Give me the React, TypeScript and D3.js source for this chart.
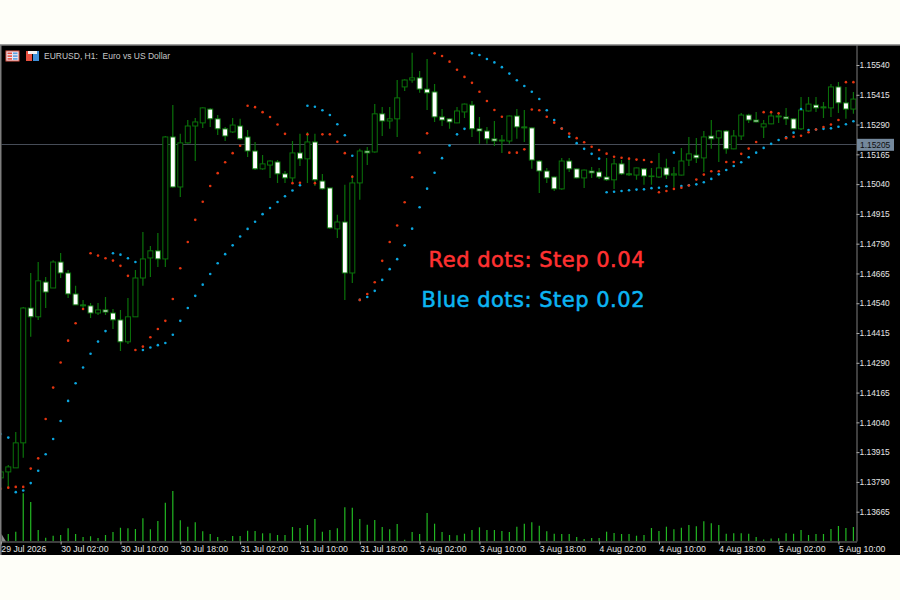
import React, { useEffect, useRef } from "react";
import * as d3 from "d3";

// all prices are in points (1 point = 0.00001), EURUSD H1
const opens = [
  113807, 113832, 113849, 113954, 114520, 114483, 114629, 114604, 114713, 114667, 114579, 114533, 114529, 114499, 114512, 114499,
  114470, 114378, 114483, 114646, 114730, 114760, 114726, 115238, 115028, 115213, 115284, 115297, 115355, 115314, 115272, 115259,
  115284, 115238, 115179, 115104, 115120, 115133, 115083, 115066, 115171, 115146, 115217, 115053, 115024, 114852, 114881, 114667,
  115045, 115179, 115175, 115335, 115305, 115314, 115448, 115477, 115486, 115439, 115427, 115322, 115314, 115297, 115343, 115372,
  115272, 115263, 115230, 115221, 115221, 115326, 115280, 115276, 115137, 115095, 115070, 115020, 115137, 115104, 115066, 115095,
  115091, 115070, 115058, 115125, 115083, 115078, 115104, 115072, 115070, 115108, 115078, 115078, 115141, 115162, 115150, 115242,
  115234, 115263, 115188, 115242, 115330, 115309, 115280, 115293, 115326, 115322, 115314, 115272, 115347, 115372, 115364, 115360,
  115448, 115381, 115355,
];
const highs = [
  113840, 113861, 114000, 114524, 114667, 114713, 114650, 114720, 114751, 114680, 114613, 114554, 114541, 114541, 114566, 114516,
  114512, 114562, 114680, 114839, 114780, 114835, 115242, 115372, 115251, 115309, 115318, 115363, 115360, 115330, 115280, 115318,
  115314, 115267, 115217, 115162, 115140, 115141, 115095, 115221, 115251, 115259, 115251, 115083, 115024, 114911, 115037, 115078,
  115188, 115196, 115376, 115364, 115364, 115477, 115480, 115591, 115515, 115565, 115460, 115355, 115316, 115364, 115378, 115389,
  115322, 115280, 115305, 115246, 115328, 115355, 115351, 115278, 115141, 115108, 115072, 115150, 115150, 115106, 115101, 115112,
  115108, 115150, 115146, 115141, 115150, 115110, 115108, 115108, 115171, 115146, 115112, 115192, 115238, 115234, 115263, 115309,
  115267, 115267, 115267, 115339, 115335, 115343, 115309, 115343, 115343, 115360, 115318, 115406, 115406, 115406, 115385, 115460,
  115469, 115448, 115427,
];
const lows = [
  113798, 113765, 113849, 113891, 114399, 114470, 114520, 114604, 114646, 114562, 114533, 114512, 114478, 114491, 114491, 114432,
  114340, 114369, 114483, 114613, 114650, 114692, 114692, 115025, 114986, 115210, 115137, 115276, 115280, 115246, 115221, 115255,
  115225, 115154, 115099, 115100, 115066, 115045, 115045, 115049, 115116, 115045, 115032, 115016, 114852, 114814, 114554, 114625,
  114974, 115120, 115172, 115242, 115272, 115238, 115431, 115465, 115423, 115351, 115301, 115284, 115272, 115295, 115318, 115238,
  115209, 115209, 115200, 115171, 115209, 115230, 115217, 115104, 115003, 115045, 115011, 115016, 115091, 115064, 115024, 115066,
  115062, 115053, 115020, 115078, 115074, 115058, 115037, 115037, 115066, 115062, 115028, 115076, 115116, 115129, 115091, 115188,
  115133, 115167, 115186, 115225, 115297, 115299, 115234, 115291, 115297, 115288, 115270, 115267, 115345, 115343, 115318, 115322,
  115339, 115314, 115335,
];
const closes = [
  113832, 113853, 113954, 114520, 114483, 114634, 114587, 114713, 114667, 114579, 114533, 114529, 114499, 114512, 114503, 114470,
  114378, 114483, 114646, 114726, 114760, 114726, 115238, 115028, 115213, 115284, 115301, 115360, 115314, 115272, 115242, 115288,
  115230, 115179, 115104, 115125, 115137, 115083, 115066, 115171, 115146, 115217, 115058, 115020, 114856, 114881, 114667, 115045,
  115179, 115171, 115335, 115305, 115314, 115402, 115477, 115486, 115439, 115423, 115322, 115309, 115301, 115347, 115376, 115272,
  115263, 115230, 115221, 115225, 115326, 115280, 115276, 115141, 115095, 115066, 115020, 115137, 115104, 115066, 115099, 115087,
  115070, 115058, 115125, 115083, 115079, 115108, 115074, 115074, 115108, 115078, 115083, 115137, 115167, 115150, 115238, 115230,
  115263, 115188, 115242, 115330, 115309, 115301, 115293, 115326, 115322, 115314, 115272, 115351, 115376, 115360, 115360, 115448,
  115381, 115355, 115397,
];

// parabolic SAR, step 0.04
const sarRed = [
  113761, 113766, 113769, 113769, 113846, 113889, 114054, 114186, 114291, 114383, 114456, 114516, 114750, 114740, 114729, 114719,
  114697, 114655, 114344, 114358, 114397, 114432, 114466, 114558, 114687, 114797, 114890, 114966, 115032, 115086, 115132, 115170,
  115201, 115369, 115363, 115342, 115322, 115290, 115251, 115044, 115046, 115249, 115044, 115249, 115249, 115218, 115170, 115071,
  114554, 114579, 114628, 114718, 114797, 114866, 114964, 115069, 115172, 115253, 115589, 115578, 115554, 115520, 115490, 115465,
  115428, 115389, 115351, 115323, 115172, 115172, 115186, 115353, 115350, 115323, 115298, 115273, 115252, 115233, 115216, 115197,
  115183, 115168, 115155, 115151, 115147, 115143, 115141, 115133, 115006, 115011, 115020, 115025, 115034, 115059, 115080, 115094,
  115094, 115133, 115133, 115167, 115189, 115217, 115342, 115342, 115337, 115233, 115239, 115243, 115258, 115269, 115280, 115290,
  115309, 115468, 115468,
];
// parabolic SAR, step 0.02
const sarBlue = [
  113991, 113976, 113747, 113754, 113785, 113837, 113906, 113970, 114046, 114130, 114204, 114270, 114328, 114379, 114423, 114750,
  114744, 114729, 114713, 114344, 114354, 114364, 114373, 114408, 114466, 114520, 114571, 114618, 114663, 114708, 114746, 114783,
  114820, 114852, 114882, 114914, 114940, 114965, 114989, 115013, 115035, 115369, 115365, 115350, 115330, 115291, 115245, 115159,
  114554, 114566, 114592, 114638, 114683, 114725, 114783, 114853, 114943, 115021, 115088, 115149, 115202, 115249, 115272, 115589,
  115582, 115565, 115551, 115531, 115504, 115476, 115452, 115428, 115397, 115350, 115309, 115273, 115239, 115212, 115188, 115167,
  115147, 115006, 115008, 115011, 115014, 115017, 115018, 115023, 115025, 115031, 115172, 115032, 115035, 115039, 115048, 115062,
  115081, 115099, 115116, 115132, 115153, 115172, 115192, 115209, 115225, 115237, 115256, 115355, 115267, 115269, 115272, 115274,
  115281, 115291, 115304,
];

// tick volume, in hundreds
const volumes = [
  2, 7, 9.3, 47.7, 39, 11, 3.3, 5.3, 6, 12.7, 7, 4, 4.7, 3, 6, 9, 13.3, 12.7, 12, 22.7, 11.7, 20, 38.3, 50, 20.7, 14.3, 18.7, 9.7, 7, 4,
  1, 5, 5, 10.3, 10, 7.7, 7.7, 6, 6, 14, 13, 16, 22, 9.3, 11, 12.7, 33.7, 33.3, 22, 16.3, 21, 14, 11.7, 17, 1.3, 9, 7, 28, 17.3, 9, 6,
  5.7, 7.3, 11, 13.7, 11, 11, 10, 9, 14.3, 17.3, 18.7, 15.3, 9.7, 7.3, 7, 7, 4, 2, 3, 3, 9.3, 8, 7, 7, 5.3, 6, 13, 10, 14.3, 11.7,
  13.3, 16, 14.7, 19.7, 17.7, 16, 7.3, 7.7, 7.7, 7.3, 4, 1.5, 2.5, 2.8, 7.7, 7.3, 11, 6, 7, 7, 12, 15, 13, 14,
];

const priceTicks = [
  115540, 115415, 115290, 115165, 115040, 114915, 114790, 114665, 114540, 114415, 114290, 114165, 114040, 113915, 113790, 113665,
];
const lastPrice = 115205;

const timeTickBars = [0, 8, 16, 24, 32, 40, 48, 56, 64, 72, 80, 88, 96, 104, 112];
const timeTickLabels = [
  "29 Jul 2026", "30 Jul 02:00", "30 Jul 10:00", "30 Jul 18:00", "31 Jul 02:00", "31 Jul 10:00", "31 Jul 18:00",
  "3 Aug 02:00", "3 Aug 10:00", "3 Aug 18:00", "4 Aug 02:00", "4 Aug 10:00", "4 Aug 18:00", "5 Aug 02:00", "5 Aug 10:00",
];

const GREEN = "#0a720a";
const AXIS = "#7d7d7d";
const AXIS_FONT = "Liberation Sans, sans-serif";

const App: React.FC = () => {
  const svgRef = useRef<SVGSVGElement | null>(null);

  useEffect(() => {
    const width = 900, height = 600;
    const svg = d3.select(svgRef.current).attr("width", width).attr("height", height);
    svg.selectAll("*").remove();

    svg.append("rect").attr("width", width).attr("height", height).attr("fill", "#fefef8");
    svg.append("rect").attr("y", 45).attr("width", width).attr("height", 510).attr("fill", "#000");

    const xScale = d3.scaleLinear().domain([0, 114]).range([0.8, 853.4]);
    const yScale = d3.scaleLinear().domain([113665, 115540]).range([511.7, 65]);
    const volScale = d3.scaleLinear().domain([0, 50]).range([541, 491]);

    const clip = svg.append("defs").append("clipPath").attr("id", "plot");
    clip.append("rect").attr("x", 1.5).attr("y", 46).attr("width", 855).attr("height", 495);
    const plot = svg.append("g").attr("clip-path", "url(#plot)");

    // last price line, under the candles
    plot.append("line")
      .attr("x1", 0).attr("x2", 857)
      .attr("y1", yScale(lastPrice) - 0.3).attr("y2", yScale(lastPrice) - 0.3)
      .attr("stroke", "#464c57").attr("stroke-width", 1);

    // volumes
    plot.selectAll("line.vol").data(volumes).join("line")
      .attr("class", "vol")
      .attr("x1", (_, i) => xScale(i)).attr("x2", (_, i) => xScale(i))
      .attr("y1", volScale(0)).attr("y2", d => volScale(d))
      .attr("stroke", "#22b822").attr("stroke-width", 1.2);

    // candles
    const bars = opens.map((o, i) => ({ i, o, h: highs[i], l: lows[i], c: closes[i] }));
    const candles = plot.selectAll("g.candle").data(bars).join("g").attr("class", "candle");
    candles.append("line")
      .attr("x1", d => xScale(d.i)).attr("x2", d => xScale(d.i))
      .attr("y1", d => yScale(d.h)).attr("y2", d => yScale(d.l))
      .attr("stroke", GREEN).attr("stroke-width", 1.2);
    candles.append("rect")
      .attr("x", d => xScale(d.i) - 2.5)
      .attr("width", 5)
      .attr("y", d => yScale(Math.max(d.o, d.c)))
      .attr("height", d => Math.max(0.6, Math.abs(yScale(d.o) - yScale(d.c))))
      .attr("fill", d => (d.c < d.o ? "#fff" : "#000"))
      .attr("stroke", GREEN).attr("stroke-width", 1);

    // SAR dots
    plot.selectAll("circle.blue").data(sarBlue).join("circle")
      .attr("class", "blue")
      .attr("cx", (_, i) => xScale(i)).attr("cy", d => yScale(d))
      .attr("r", 1.3).attr("fill", "#0aa6df");
    plot.selectAll("circle.red").data(sarRed).join("circle")
      .attr("class", "red")
      .attr("cx", (_, i) => xScale(i)).attr("cy", d => yScale(d))
      .attr("r", 1.3).attr("fill", "#e4340f");

    // frame
    svg.append("path").attr("d", "M0.75,555V45H900").attr("fill", "none").attr("stroke", AXIS).attr("stroke-width", 1.5);
    svg.append("path").attr("d", "M1.5,541.5V534L6,541.5Z").attr("fill", "#8a8a8a");

    // price axis
    const priceAxis = svg.append("g")
      .attr("transform", "translate(856.5,0)")
      .call(d3.axisRight(yScale)
        .tickValues(priceTicks)
        .tickFormat(d => (+d / 100000).toFixed(5))
        .tickSize(3).tickPadding(0));
    priceAxis.select(".domain").attr("d", "M0.5,45V541.5").attr("stroke", AXIS);
    priceAxis.selectAll("line").attr("stroke", "#aaa");
    priceAxis.selectAll("text").attr("fill", "#e4e4e4").attr("font-family", AXIS_FONT).attr("font-size", 8.4);

    // last price tag
    svg.append("rect")
      .attr("x", 857).attr("y", yScale(lastPrice) - 6)
      .attr("width", 37).attr("height", 12)
      .attr("fill", "#74889c");
    svg.append("text")
      .attr("x", 860).attr("y", yScale(lastPrice) + 3)
      .attr("fill", "#0d0d0d").attr("font-family", AXIS_FONT).attr("font-size", 8.4)
      .text((lastPrice / 100000).toFixed(5));

    // time axis
    const timeAxis = svg.append("g")
      .attr("transform", "translate(0,541.5)")
      .call(d3.axisBottom(xScale)
        .tickValues(timeTickBars)
        .tickFormat((_, i) => timeTickLabels[i])
        .tickSize(3).tickPadding(1));
    timeAxis.select(".domain").attr("d", "M0,0.5H857").attr("stroke", AXIS);
    timeAxis.selectAll("line").attr("stroke", "#aaa");
    timeAxis.selectAll("text")
      .attr("fill", "#e4e4e4").attr("font-family", AXIS_FONT).attr("font-size", 8.7)
      .attr("text-anchor", "start").attr("dx", 0);

    // chart header, with the two little window icons
    const icons = svg.append("g");
    icons.append("rect").attr("x", 6).attr("y", 51).attr("width", 13).attr("height", 10).attr("fill", "#e9e4f2").attr("stroke", "#e05a4a");
    d3.range(3).forEach(k => {
      icons.append("rect").attr("x", 7.5).attr("y", 52.5 + k * 2.8).attr("width", 4.5).attr("height", 1.6).attr("fill", "#e8503f");
      icons.append("rect").attr("x", 13).attr("y", 52.5 + k * 2.8).attr("width", 4.5).attr("height", 1.6).attr("fill", "#5aa0e0");
    });
    icons.append("rect").attr("x", 26).attr("y", 51).attr("width", 6).attr("height", 10).attr("fill", "#e8503f");
    icons.append("rect").attr("x", 33).attr("y", 51).attr("width", 6).attr("height", 10).attr("fill", "#3f8fd8");
    icons.append("rect").attr("x", 28).attr("y", 51).attr("width", 9).attr("height", 3).attr("fill", "#f2f2f2");
    svg.append("text")
      .attr("x", 44).attr("y", 59)
      .attr("fill", "#c8c8c8").attr("font-family", AXIS_FONT).attr("font-size", 8.5)
      .attr("xml:space", "preserve").style("white-space", "pre")
      .text("EURUSD, H1:  Euro vs US Dollar");

    // annotations
    const noteFont = "DejaVu Sans, sans-serif";
    svg.append("text")
      .attr("x", 645).attr("y", 267).attr("text-anchor", "end")
      .attr("fill", "#ff3131").attr("stroke", "#ff3131").attr("stroke-width", 0.55)
      .attr("font-family", noteFont).attr("font-size", 21).attr("letter-spacing", 0.5)
      .text("Red dots: Step 0.04");
    svg.append("text")
      .attr("x", 645).attr("y", 307).attr("text-anchor", "end")
      .attr("fill", "#0cb4f2").attr("stroke", "#0cb4f2").attr("stroke-width", 0.55)
      .attr("font-family", noteFont).attr("font-size", 21).attr("letter-spacing", 0.5)
      .text("Blue dots: Step 0.02");
  }, []);

  return <svg ref={svgRef} style={{ position: "absolute", left: 0, top: 0, display: "block" }}></svg>;
};

export default App;
